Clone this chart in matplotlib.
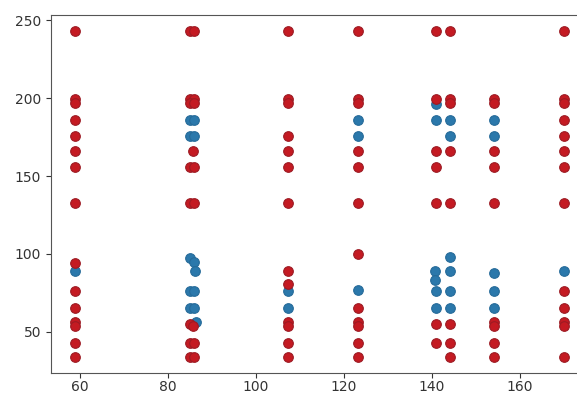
import matplotlib
matplotlib.use("Agg")
import matplotlib.pyplot as plt

# Blue series
blue_x = [59,
          85, 86, 85, 86, 85, 86, 86.2, 85, 86, 85, 86, 86.3,
          107.3, 107.3,
          123.2, 123.2, 123.2,
          141, 141, 140.7, 140.7, 141, 141,
          144.1, 144.1, 144.1, 144.1, 144.1, 144.1,
          154.2, 154.2, 154.2, 154.2, 154.2,
          169.9]
blue_y = [89,
          186, 186, 176, 176, 97.5, 95, 89, 76, 76, 65, 65, 56,
          76, 65,
          186, 176, 77,
          196, 186, 89, 83, 76, 65,
          186, 176, 98, 89, 76, 65,
          186, 176, 88, 76, 65,
          89]

# Red series
red_x = ([59] * 15
         + [85, 86, 85, 86, 85, 86, 85.6, 85, 86, 85, 86, 85, 85.6, 85, 86, 85, 86]
         + [107.3] * 13
         + [123.2] * 12
         + [141] * 7
         + [144.1] * 8
         + [154.2] * 9
         + [169.9] * 13)
red_y = ([243, 199.5, 197, 186, 176, 166, 156, 133, 94, 76, 65, 56, 54, 43, 34]
         + [243, 243, 199.5, 199.5, 197, 197, 166, 156, 156, 133, 133, 55, 54, 43, 43, 34, 34]
         + [243, 199.5, 197, 176, 166, 156, 133, 89, 81, 56, 54, 43, 34]
         + [243, 199.5, 197, 166, 156, 133, 100, 65, 56, 54, 43, 34]
         + [243, 199.5, 166, 156, 133, 55, 43]
         + [243, 199.5, 197, 166, 133, 55, 43, 34]
         + [199.5, 197, 166, 156, 133, 56, 54, 43, 34]
         + [243, 199.5, 197, 186, 176, 166, 156, 133, 76, 65, 56, 54, 34])

fig = plt.figure(figsize=(5.77, 3.96), dpi=100)
ax = fig.add_axes([51 / 577, 23 / 396, 537 / 577, 358 / 396])

ax.scatter(blue_x, blue_y, s=48, c="#2b78ab", edgecolors="#256a99", linewidths=0.8, zorder=2)
ax.scatter(red_x, red_y, s=48, c="#c41a22", edgecolors="#9c1a23", linewidths=0.8, zorder=3)

ax.set_xticks([60, 80, 100, 120, 140, 160])
ax.set_yticks([50, 100, 150, 200, 250])
for sp in ax.spines.values():
    sp.set_color("#555555")
ax.tick_params(colors="#333333", labelsize=10)
ax.tick_params(axis="x", pad=1.5)

fig.savefig("out.png", dpi=100)
